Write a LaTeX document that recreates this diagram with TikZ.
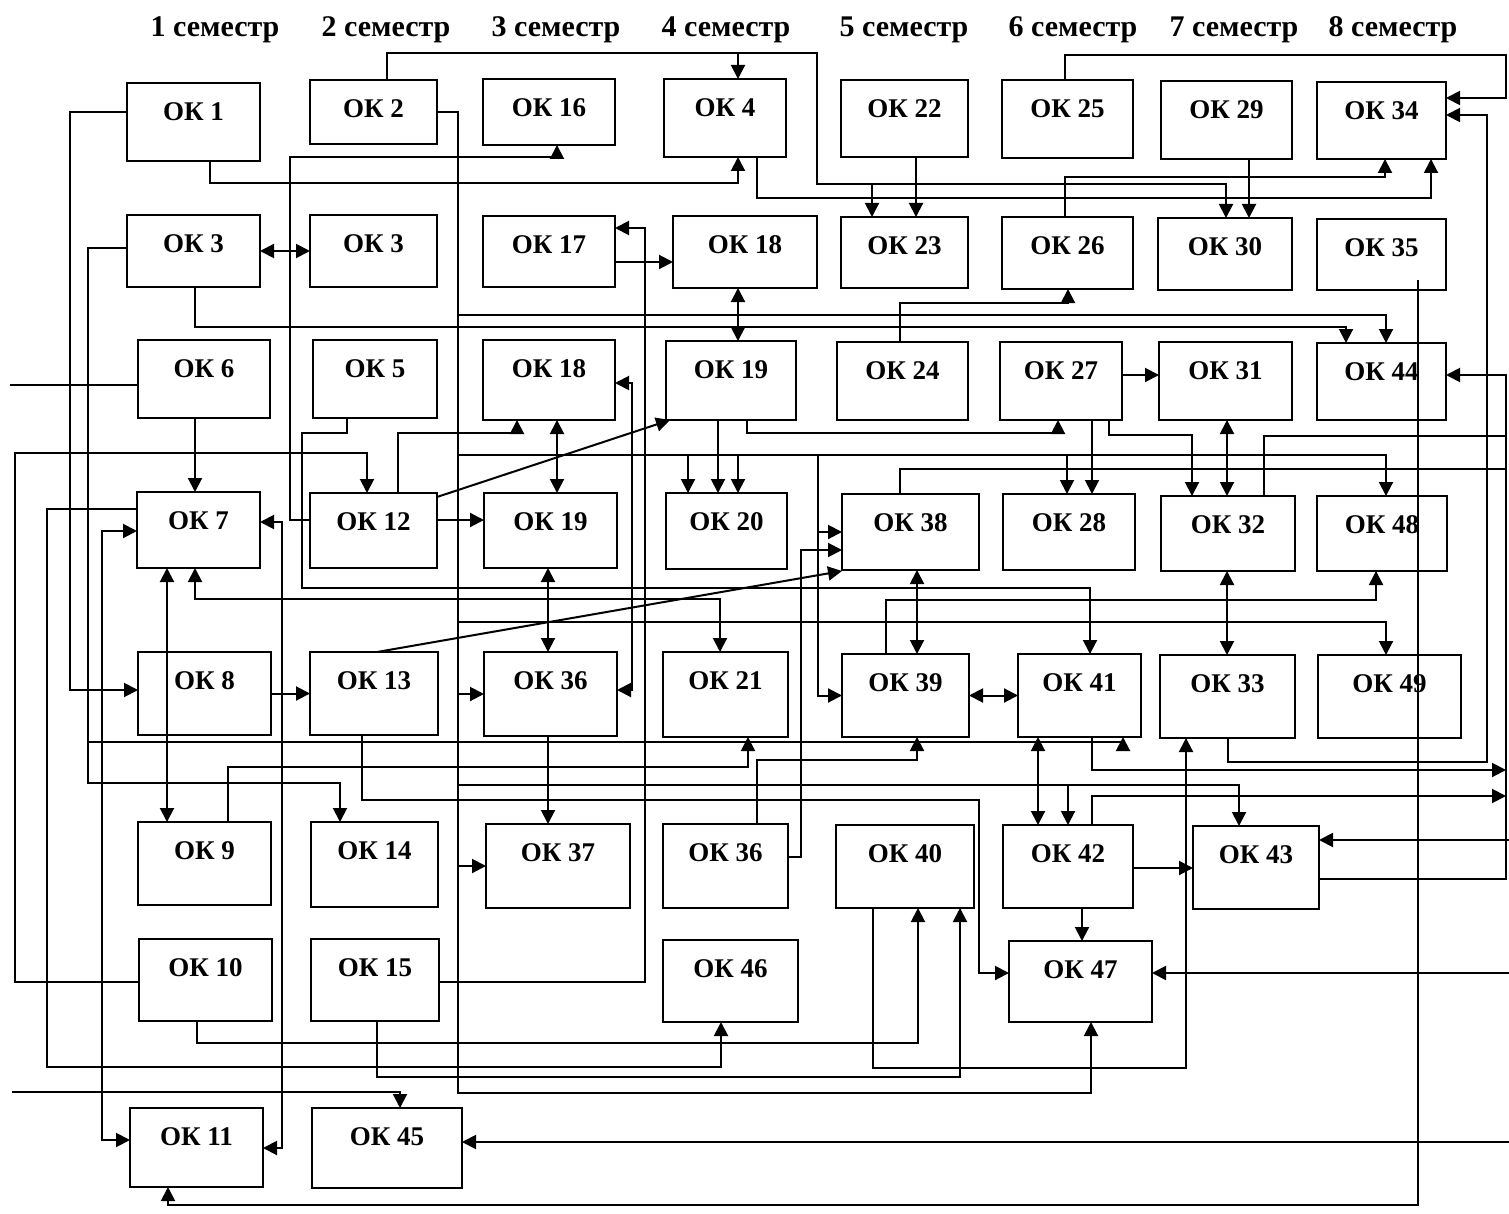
\documentclass[tikz,border=0pt]{standalone}
\usepackage{fontspec}
\setmainfont{Liberation Serif}
\usetikzlibrary{arrows.meta}

\begin{document}
\begin{tikzpicture}[x=0.5pt,y=-0.5pt,>={Triangle[length=7pt,width=7pt]},
  okbox/.style={draw,line width=1.1pt,inner sep=0pt,outer sep=0pt},
  oklabel/.style={font=\fontsize{13.5}{15}\selectfont\bfseries,anchor=center,yshift=-14.5pt,inner sep=0pt},
  sem/.style={font=\fontsize{15}{17}\selectfont\bfseries},
  cn/.style={line width=1pt}]
\useasboundingbox (0,0) rectangle (1509,1214);

% semesters
\foreach \i/\xc in {1/215,2/386,3/556,4/726,5/904,6/1073,7/1234,8/1393}
  \node[sem] (sem\i) at (\xc,30) {\i\ семестр};

% boxes: name/left/top/right/bottom/text
\foreach \nm/\xa/\ya/\xb/\yb/\lbl in {
  ok1/127/83/260/161/ОК 1, ok2/310/80/437/144/ОК 2, ok16/483/79/615/145/ОК 16,
  ok4/664/79/786/157/ОК 4, ok22/841/80/968/157/ОК 22, ok25/1002/80/1133/158/ОК 25,
  ok29/1161/81/1292/159/ОК 29, ok34/1317/82/1446/159/ОК 34,
  ok3a/127/215/260/287/ОК 3, ok3b/310/215/437/287/ОК 3, ok17/483/216/615/287/ОК 17,
  ok18a/673/216/817/288/ОК 18, ok23/841/217/968/288/ОК 23, ok26/1002/217/1133/289/ОК 26,
  ok30/1158/218/1292/290/ОК 30, ok35/1317/219/1446/290/ОК 35,
  ok6/138/340/270/418/ОК 6, ok5/313/340/437/418/ОК 5, ok18b/483/340/615/420/ОК 18,
  ok19a/666/341/796/420/ОК 19, ok24/837/342/968/420/ОК 24, ok27/1000/342/1122/420/ОК 27,
  ok31/1159/342/1292/420/ОК 31, ok44/1317/343/1446/420/ОК 44,
  ok7/137/492/260/568/ОК 7, ok12/310/493/437/568/ОК 12, ok19b/484/493/617/568/ОК 19,
  ok20/666/493/787/569/ОК 20, ok38/842/494/979/570/ОК 38, ok28/1003/494/1135/570/ОК 28,
  ok32/1161/496/1295/571/ОК 32, ok48/1317/496/1447/571/ОК 48,
  ok8/138/652/271/735/ОК 8, ok13/310/652/438/735/ОК 13, ok36a/484/652/617/736/ОК 36,
  ok21/663/652/788/737/ОК 21, ok39/842/654/969/737/ОК 39, ok41/1018/654/1141/737/ОК 41,
  ok33/1160/655/1295/738/ОК 33, ok49/1318/655/1461/738/ОК 49,
  ok9/138/822/271/905/ОК 9, ok14/311/822/438/907/ОК 14, ok37/486/824/630/908/ОК 37,
  ok36b/663/824/788/908/ОК 36, ok40/836/825/974/908/ОК 40, ok42/1003/825/1133/908/ОК 42,
  ok43/1193/826/1319/909/ОК 43,
  ok10/139/939/272/1021/ОК 10, ok15/311/939/439/1021/ОК 15, ok46/663/940/798/1022/ОК 46,
  ok47/1009/941/1152/1022/ОК 47,
  ok11/130/1108/263/1187/ОК 11, ok45/312/1108/462/1188/ОК 45}
  \node[okbox,minimum width={(\xb-\xa)*0.5pt},minimum height={(\yb-\ya)*0.5pt},
        label={[oklabel,name=\nm t]north:\lbl}] (\nm) at ({(\xa+\xb)/2},{(\ya+\yb)/2}) {};

% free ends at the page edge
\coordinate (in6) at (10,385);
\coordinate (in45) at (12,1092);
\coordinate (in43) at (1509,840);
\coordinate (in47) at (1509,973);
\coordinate (in45r) at (1509,1142);

% row 1 and 2
\draw[cn,->] (ok1.south-|210,0) -- ++(0,22) -| (ok4.south-|738,0);
\draw[cn,->] (ok2.north-|387,0) |- (817,53) |- (1226,184) -- (ok30.north-|1226,0);
\draw[cn,->] (738,53) -- (ok4.north-|738,0);
\draw[cn,->] (872,184) -- (ok23.north-|872,0);
\draw[cn,->] (ok4.south-|757,0) |- (1431,198) -- (ok34.south-|1431,0);
\draw[cn,->] (ok22.south-|916,0) -- (ok23.north-|916,0);
\draw[cn,->] (ok25.north-|1065,0) |- (1506,55) |- (ok34.east|-0,98);
\draw[cn,->] (ok26.north-|1065,0) |- (1385,177) -- (ok34.south-|1385,0);
\draw[cn,->] (ok29.south-|1249,0) -- (ok30.north-|1249,0);
\draw[cn,->] (ok33.south-|1228,0) |- (1487,762) |- (ok34.east|-0,115);
\draw[cn,<->] (ok3a.east) -- (ok3b.west);
\draw[cn,->] (ok3a.west|-0,248) -- ++(-39,0) |- (340,783) -- (ok14.north-|340,0);
\draw[cn,->] (88,742) -| (ok41.south-|1123,0);
\draw[cn,->] (ok3a.south-|195,0) |- (1346,327) -- (ok44.north-|1346,0);
\draw[cn,->] (ok17.east|-0,262) -- (ok18a.west|-0,262);
\draw[cn,<->] (ok18a.south-|738,0) -- (ok19a.north-|738,0);

% bus from OK 2
\draw[cn,->] (ok2.east|-0,112) -| (458,1093) -| (ok47.south-|1091,0);
\draw[cn,->] (458,315) -| (ok44.north-|1386,0);
\draw[cn,->] (458,455) -| (ok48.north-|1386,0);
\draw[cn,->] (688,455) -- (ok20.north-|688,0);
\draw[cn,->] (738,455) -- (ok20.north-|738,0);
\draw[cn,->] (1067,455) -- (ok28.north-|1067,0);
\draw[cn,->] (818,455) |- (ok39.west);
\draw[cn,->] (818,532) -- (ok38.west|-0,532);
\draw[cn,->] (458,622) -| (ok49.north-|1386,0);
\draw[cn,->] (ok36a.west-|458,0) -- (ok36a.west);
\draw[cn,->] (458,785) -| (ok43.north-|1239,0);
\draw[cn,->] (1068,785) -- (ok42.north-|1068,0);
\draw[cn,->] (ok37.west-|458,0) -- (ok37.west);

% left side
\draw[cn,->] (ok1.west|-0,112) -- ++(-57,0) |- (ok8.west|-0,690);
\draw[cn,->] (ok5.south-|347,0) |- (302,433) |- (1090,588) -- (ok41.north-|1090,0);
\draw[cn,->] (ok6.south-|195,0) -- (ok7.north-|195,0);
\draw[cn] (in6) -- (ok6.west|-0,385);
\draw[cn,->] (ok10.west|-0,982) -| (15,453) -| (ok12.north-|367,0);
\draw[cn,->] (ok7.west|-0,509) -| (47,1067) -| (ok46.south-|721,0);
\draw[cn,<->] (ok7.west|-0,531) -| (102,1140) -- (ok11.west|-0,1140);
\draw[cn,<->] (ok7.east|-0,522) -| (282,1148) -- (ok11.east|-0,1148);
\draw[cn,<->] (ok7.south-|167,0) -- (ok9.north-|167,0);
\draw[cn,<->] (ok7.south-|195,0) |- (720,599) -- (ok21.north-|720,0);
\draw[cn,->] (ok8.east) -- (ok13.west);
\draw[cn,->] (ok9.north-|228,0) |- (748,767) -- (ok21.south-|748,0);
\draw[cn,->] (ok10.south-|197,0) |- (918,1043) -- (ok40.south-|918,0);
\draw[cn,->] (ok15.south-|377,0) |- (960,1077) -- (ok40.south-|960,0);
\draw[cn,->] (ok15.east|-0,982) -| (645,228) -- (ok17.east|-0,228);
\draw[cn,<->] (ok18b.east|-0,383) -| (632,690) -- (ok36a.east|-0,690);
\draw[cn,->] (ok12.west|-0,520) -| (290,157) -| (ok16.south-|557,0);
\draw[cn,->] (in45) -| (ok45.north-|400,0);
\draw[cn,->] (1418,280) |- (168,1205) -- (ok11.south-|168,0);

% middle
\draw[cn,->] (ok12.east|-0,520) -- (ok19b.west|-0,520);
\draw[cn,->] (ok12.north-|398,0) |- (517,433) -- (ok18b.south-|517,0);
\draw[cn,->] (ok12.east|-0,497) -- (ok19a.south-|670,0);
\draw[cn,<->] (ok18b.south-|557,0) -- (ok19b.north-|557,0);
\draw[cn,<->] (ok19b.south-|548,0) -- (ok36a.north-|548,0);
\draw[cn,->] (ok36a.south-|548,0) -- (ok37.north-|548,0);
\draw[cn,->] (ok13.north-|377,0) -- (ok38.west|-0,571);
\draw[cn,->] (ok13.south-|362,0) |- (979,800) |- (ok47.west|-0,973);
\draw[cn,->] (ok19a.south-|718,0) -- (ok20.north-|718,0);
\draw[cn,->] (ok19a.south-|747,0) |- (1058,433) -- (ok27.south-|1058,0);
\draw[cn,->] (ok24.north-|900,0) |- (1068,303) -- (ok26.south-|1068,0);

% right side
\draw[cn,->] (ok27.east|-0,375) -- (ok31.west|-0,375);
\draw[cn,->] (ok27.south-|1092,0) -- (ok28.north-|1092,0);
\draw[cn,->] (ok27.south-|1109,0) |- (1192,435) -- (ok32.north-|1192,0);
\draw[cn,<->] (ok31.south-|1227,0) -- (ok32.north-|1227,0);
\draw[cn,<->] (ok32.south-|1227,0) -- (ok33.north-|1227,0);
\draw[cn] (ok32.north-|1264,0) |- (1506,436);
\draw[cn] (ok38.north-|900,0) |- (1506,469);
\draw[cn,<->] (ok38.south-|917,0) -- (ok39.north-|917,0);
\draw[cn,->] (ok39.north-|886,0) |- (1376,600) -- (ok48.south-|1376,0);
\draw[cn,<->] (ok39.east) -- (ok41.west);
\draw[cn,->] (ok36b.north-|757,0) |- (917,760) -- (ok39.south-|917,0);
\draw[cn,->] (ok36b.east|-0,857) -| (801,550) -- (ok38.west|-0,550);
\draw[cn,<->] (ok41.south-|1038,0) -- (ok42.north-|1038,0);
\draw[cn,->] (ok41.south-|1092,0) |- (1506,770);
\draw[cn,->] (ok42.north-|1092,0) |- (1506,796);
\draw[cn,->] (ok42.east|-0,868) -- (ok43.west|-0,868);
\draw[cn,->] (ok42.south-|1082,0) -- (ok47.north-|1082,0);
\draw[cn,->] (ok40.south-|873,0) |- (1186,1068) -- (ok33.south-|1186,0);
\draw[cn,->] (ok43.east|-0,879) -| (1506,375) -- (ok44.east|-0,375);
\draw[cn,->] (in43) -- (ok43.east|-0,840);
\draw[cn,->] (in47) -- (ok47.east|-0,973);
\draw[cn,->] (in45r) -- (ok45.east|-0,1142);
\end{tikzpicture}
\end{document}
